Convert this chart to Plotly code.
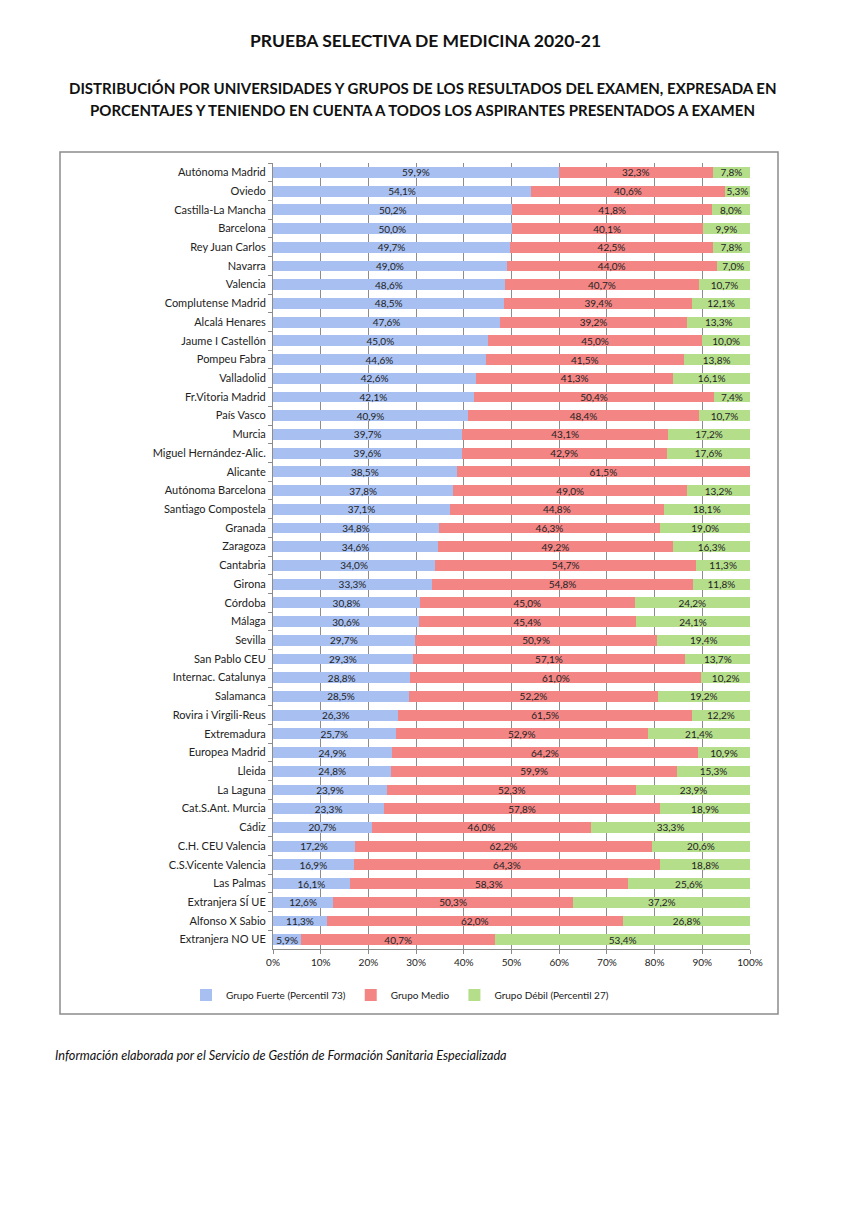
import plotly.graph_objects as go

universidades = [
    "Autónoma Madrid", "Oviedo", "Castilla-La Mancha", "Barcelona", "Rey Juan Carlos",
    "Navarra", "Valencia", "Complutense Madrid", "Alcalá Henares", "Jaume I Castellón",
    "Pompeu Fabra", "Valladolid", "Fr.Vitoria Madrid", "País Vasco", "Murcia",
    "Miguel Hernández-Alic.", "Alicante", "Autónoma Barcelona", "Santiago Compostela", "Granada",
    "Zaragoza", "Cantabria", "Girona", "Córdoba", "Málaga",
    "Sevilla", "San Pablo CEU", "Internac. Catalunya", "Salamanca", "Rovira i Virgili-Reus",
    "Extremadura", "Europea Madrid", "Lleida", "La Laguna", "Cat.S.Ant. Murcia",
    "Cádiz", "C.H. CEU Valencia", "C.S.Vicente Valencia", "Las Palmas", "Extranjera SÍ UE",
    "Alfonso X Sabio", "Extranjera NO UE",
]
fuerte = [59.9, 54.1, 50.2, 50.0, 49.7, 49.0, 48.6, 48.5, 47.6, 45.0,
          44.6, 42.6, 42.1, 40.9, 39.7, 39.6, 38.5, 37.8, 37.1, 34.8,
          34.6, 34.0, 33.3, 30.8, 30.6, 29.7, 29.3, 28.8, 28.5, 26.3,
          25.7, 24.9, 24.8, 23.9, 23.3, 20.7, 17.2, 16.9, 16.1, 12.6,
          11.3, 5.9]
medio = [32.3, 40.6, 41.8, 40.1, 42.5, 44.0, 40.7, 39.4, 39.2, 45.0,
         41.5, 41.3, 50.4, 48.4, 43.1, 42.9, 61.5, 49.0, 44.8, 46.3,
         49.2, 54.7, 54.8, 45.0, 45.4, 50.9, 57.1, 61.0, 52.2, 61.5,
         52.9, 64.2, 59.9, 52.3, 57.8, 46.0, 62.2, 64.3, 58.3, 50.3,
         62.0, 40.7]
debil = [7.8, 5.3, 8.0, 9.9, 7.8, 7.0, 10.7, 12.1, 13.3, 10.0,
         13.8, 16.1, 7.4, 10.7, 17.2, 17.6, 0.0, 13.2, 18.1, 19.0,
         16.3, 11.3, 11.8, 24.2, 24.1, 19.4, 13.7, 10.2, 19.2, 12.2,
         21.4, 10.9, 15.3, 23.9, 18.9, 33.3, 20.6, 18.8, 25.6, 37.2,
         26.8, 53.4]
x_ticks = [0, 10, 20, 30, 40, 50, 60, 70, 80, 90, 100]
series_names = ["Grupo Fuerte (Percentil 73)", "Grupo Medio", "Grupo Débil (Percentil 27)"]
colors = ["#A7BFF1", "#F48585", "#B5DE8B"]

FONT = "Lato"
OFF = 8  # page body margin
W, H = 859, 1214
L = 273 - OFF
R = W - (750 - OFF)
T = 163 - OFF
B = H - (949 - OFF)
PW, PH = W - L - R, H - T - B


def px_x(x):
    return (x - OFF - L) / PW


def px_y(y):
    return (H - B - (y - OFF)) / PH


def fmt(v):
    if v == 0:
        return ""
    return f"{v:.1f}".replace(".", ",") + "%"


fig = go.Figure()
for name, vals, col in zip(series_names, [fuerte, medio, debil], colors):
    fig.add_trace(go.Bar(
        y=universidades, x=vals, name=name, orientation="h",
        marker=dict(color=col, line=dict(width=0)),
        text=[fmt(v) for v in vals], texttemplate="%{text}",
        textposition="inside", insidetextanchor="middle",
        textfont=dict(family=FONT, size=10, color="#222"),
        constraintext="none",
    ))

fig.update_layout(
    width=W, height=H, barmode="stack", bargap=0.42,
    margin=dict(l=L, r=R, t=T, b=B),
    paper_bgcolor="white", plot_bgcolor="white",
    font=dict(family=FONT, size=10, color="#222"),
    uniformtext=dict(minsize=10, mode="show"),
    showlegend=True,
    legend=dict(orientation="h", xref="container", x=(400 - OFF) / W, xanchor="center",
                yref="container", y=1 - (995 - OFF) / H, yanchor="middle",
                font=dict(family=FONT, size=10, color="#222"),
                traceorder="normal"),
    xaxis=dict(range=[0, 100], tickvals=x_ticks, ticktext=[f"{t}%" for t in x_ticks],
               showgrid=True, gridcolor="#8c8c8c", gridwidth=1,
               showline=True, linecolor="#8c8c8c", linewidth=1,
               ticks="outside", ticklen=4, tickcolor="#8c8c8c",
               layer="above traces", zeroline=False,
               tickfont=dict(family=FONT, size=10, color="#222"), fixedrange=True),
    yaxis=dict(autorange="reversed", showline=True, linecolor="#8c8c8c", linewidth=1,
               ticks="outside", ticklen=4, tickcolor="#8c8c8c", tickson="boundaries",
               showgrid=False, layer="above traces",
               tickfont=dict(family=FONT, size=11, color="#222"), ticklabelstandoff=4),
)

fig.add_shape(type="rect", xref="paper", yref="paper",
              x0=px_x(60), x1=px_x(778), y0=px_y(1014), y1=px_y(152),
              line=dict(color="#8c8c8c", width=1.5), fillcolor="rgba(0,0,0,0)", layer="below")

fig.add_annotation(text="<b>PRUEBA SELECTIVA DE MEDICINA 2020-21</b>", xref="paper", yref="paper",
                   x=px_x(425), y=px_y(40), showarrow=False,
                   font=dict(family=FONT, size=17.5, color="#111"), xanchor="center", yanchor="middle")
fig.add_annotation(text="<b>DISTRIBUCIÓN POR UNIVERSIDADES Y GRUPOS DE LOS RESULTADOS DEL EXAMEN, EXPRESADA EN</b>",
                   xref="paper", yref="paper", x=px_x(423), y=px_y(88), showarrow=False,
                   font=dict(family=FONT, size=15, color="#111"), xanchor="center", yanchor="middle")
fig.add_annotation(text="<b>PORCENTAJES Y TENIENDO EN CUENTA A TODOS LOS ASPIRANTES PRESENTADOS A EXAMEN</b>",
                   xref="paper", yref="paper", x=px_x(422), y=px_y(110), showarrow=False,
                   font=dict(family=FONT, size=15, color="#111"), xanchor="center", yanchor="middle")
fig.add_annotation(text="<i>Información elaborada por el Servicio de Gestión de Formación Sanitaria Especializada</i>",
                   xref="paper", yref="paper", x=px_x(53), y=px_y(1055), showarrow=False,
                   font=dict(family=FONT, size=12.7, color="#111"), xanchor="left", yanchor="middle")

fig.write_html("out.html")
